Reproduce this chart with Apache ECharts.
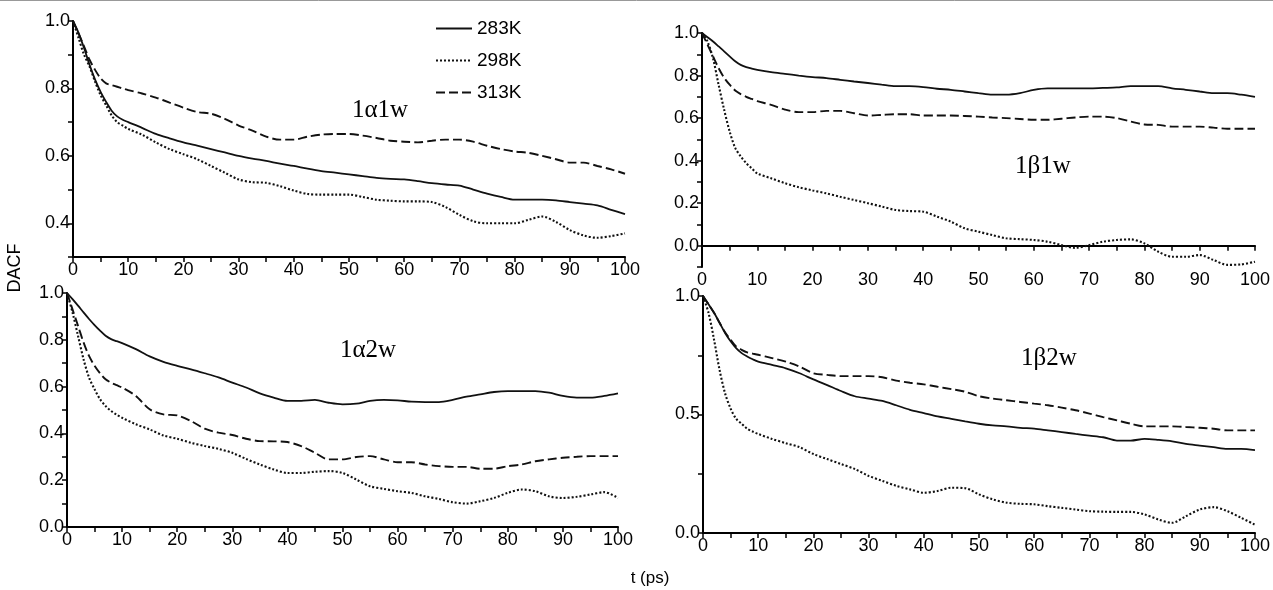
<!DOCTYPE html>
<html>
<head>
<meta charset="utf-8">
<script src="https://cdn.jsdelivr.net/npm/echarts@6/dist/echarts.min.js"></script>
<style>
  html, body { margin: 0; padding: 0; background: #fff; }
  #chart { width: 1273px; height: 590px; }
</style>
</head>
<body>
<div id="chart"></div>
<script>
// time axis (ps), shared by all panels
const T = [0, 1, 2, 3, 4, 5, 6, 7, 8, 9, 10,
  12.5, 15, 17.5, 20, 22.5, 25, 27.5, 30, 32.5, 35, 37.5, 40, 42.5, 45, 47.5, 50,
  52.5, 55, 57.5, 60, 62.5, 65, 67.5, 70, 72.5, 75, 77.5, 80, 82.5, 85, 87.5, 90,
  92.5, 95, 97.5, 100]

// 1α1w
const a1w283 = [1.0, 0.965, 0.92, 0.87, 0.826, 0.79, 0.76, 0.734, 0.717, 0.707, 0.70,
  0.683, 0.665, 0.652, 0.64, 0.63, 0.62, 0.61, 0.60, 0.592, 0.585, 0.577, 0.57, 0.562, 0.555, 0.55, 0.545,
  0.54, 0.535, 0.532, 0.53, 0.525, 0.519, 0.515, 0.512, 0.50, 0.488, 0.478, 0.47, 0.47, 0.47, 0.468, 0.463,
  0.458, 0.453, 0.44, 0.427]
const a1w298 = [1.0, 0.95, 0.90, 0.865, 0.82, 0.78, 0.75, 0.72, 0.70, 0.69, 0.68,
  0.663, 0.64, 0.62, 0.605, 0.59, 0.57, 0.55, 0.53, 0.522, 0.52, 0.51, 0.497, 0.487, 0.485, 0.485, 0.485,
  0.478, 0.47, 0.467, 0.465, 0.465, 0.463, 0.448, 0.425, 0.406, 0.40, 0.40, 0.40, 0.41, 0.42, 0.404, 0.38,
  0.364, 0.357, 0.362, 0.37]
const a1w313 = [1.0, 0.963, 0.925, 0.885, 0.855, 0.83, 0.815, 0.81, 0.805, 0.80, 0.795,
  0.785, 0.773, 0.758, 0.743, 0.73, 0.725, 0.71, 0.69, 0.675, 0.657, 0.648, 0.648, 0.657, 0.663, 0.665, 0.665,
  0.66, 0.653, 0.645, 0.642, 0.64, 0.645, 0.648, 0.648, 0.642, 0.63, 0.62, 0.613, 0.609, 0.60, 0.59, 0.58,
  0.58, 0.57, 0.56, 0.547]

// 1β1w
const b1w283 = [1.0, 0.98, 0.96, 0.937, 0.914, 0.89, 0.867, 0.85, 0.84, 0.833, 0.827,
  0.816, 0.808, 0.80, 0.793, 0.788, 0.78, 0.772, 0.765, 0.757, 0.75, 0.75, 0.746, 0.738, 0.733, 0.725, 0.717,
  0.71, 0.71, 0.717, 0.733, 0.74, 0.74, 0.74, 0.74, 0.742, 0.744, 0.75, 0.75, 0.75, 0.74, 0.733, 0.725,
  0.717, 0.717, 0.71, 0.70]
const b1w298 = [1.0, 0.96, 0.88, 0.757, 0.64, 0.537, 0.46, 0.42, 0.388, 0.364, 0.34,
  0.317, 0.294, 0.275, 0.26, 0.246, 0.23, 0.215, 0.20, 0.184, 0.168, 0.163, 0.16, 0.137, 0.113, 0.082, 0.066,
  0.05, 0.035, 0.031, 0.027, 0.019, 0.003, -0.01, 0.003, 0.019, 0.027, 0.03, 0.011, -0.028, -0.052, -0.052, -0.044,
  -0.067, -0.09, -0.088, -0.075]
const b1w313 = [1.0, 0.945, 0.89, 0.835, 0.79, 0.757, 0.73, 0.713, 0.70, 0.69, 0.68,
  0.662, 0.64, 0.628, 0.628, 0.634, 0.634, 0.623, 0.612, 0.615, 0.618, 0.618, 0.612, 0.612, 0.612, 0.61, 0.607,
  0.603, 0.60, 0.596, 0.592, 0.592, 0.597, 0.603, 0.607, 0.607, 0.60, 0.584, 0.57, 0.568, 0.56, 0.56, 0.56,
  0.555, 0.55, 0.55, 0.55]

// 1α2w
const a2w283 = [1.0, 0.974, 0.946, 0.917, 0.889, 0.863, 0.839, 0.817, 0.803, 0.794, 0.786,
  0.76, 0.729, 0.706, 0.689, 0.674, 0.657, 0.639, 0.617, 0.596, 0.571, 0.553, 0.539, 0.539, 0.543, 0.531, 0.524,
  0.527, 0.539, 0.543, 0.541, 0.536, 0.534, 0.534, 0.543, 0.557, 0.567, 0.577, 0.581, 0.581, 0.581, 0.574, 0.56,
  0.553, 0.553, 0.56, 0.571]
const a2w298 = [1.0, 0.917, 0.817, 0.717, 0.639, 0.589, 0.546, 0.517, 0.496, 0.48, 0.467,
  0.439, 0.417, 0.391, 0.377, 0.36, 0.346, 0.334, 0.317, 0.291, 0.267, 0.246, 0.231, 0.231, 0.236, 0.239, 0.231,
  0.203, 0.174, 0.163, 0.153, 0.146, 0.131, 0.12, 0.106, 0.10, 0.11, 0.124, 0.146, 0.16, 0.153, 0.131, 0.124,
  0.129, 0.139, 0.149, 0.124]
const a2w313 = [1.0, 0.93, 0.86, 0.789, 0.731, 0.689, 0.657, 0.631, 0.617, 0.606, 0.596,
  0.56, 0.503, 0.481, 0.477, 0.453, 0.42, 0.403, 0.393, 0.377, 0.367, 0.366, 0.363, 0.346, 0.317, 0.289, 0.289,
  0.299, 0.303, 0.289, 0.277, 0.277, 0.267, 0.26, 0.257, 0.257, 0.249, 0.249, 0.26, 0.267, 0.281, 0.289, 0.296,
  0.30, 0.303, 0.303, 0.303]

// 1β2w
const b2w283 = [1.0, 0.965, 0.929, 0.887, 0.844, 0.809, 0.78, 0.759, 0.745, 0.733, 0.723,
  0.709, 0.695, 0.674, 0.648, 0.624, 0.599, 0.577, 0.567, 0.557, 0.539, 0.52, 0.506, 0.492, 0.482, 0.471, 0.461,
  0.454, 0.45, 0.444, 0.44, 0.433, 0.426, 0.418, 0.411, 0.404, 0.39, 0.39, 0.397, 0.393, 0.387, 0.376, 0.369,
  0.362, 0.355, 0.355, 0.35]
const b2w298 = [1.0, 0.929, 0.816, 0.688, 0.589, 0.525, 0.482, 0.461, 0.44, 0.428, 0.418,
  0.397, 0.379, 0.362, 0.333, 0.312, 0.291, 0.27, 0.241, 0.22, 0.199, 0.184, 0.17, 0.177, 0.191, 0.189, 0.163,
  0.142, 0.128, 0.123, 0.121, 0.113, 0.106, 0.099, 0.092, 0.09, 0.089, 0.089, 0.078, 0.057, 0.043, 0.071, 0.099,
  0.109, 0.092, 0.064, 0.035]
const b2w313 = [1.0, 0.965, 0.929, 0.887, 0.847, 0.816, 0.787, 0.773, 0.762, 0.757, 0.752,
  0.738, 0.723, 0.702, 0.674, 0.667, 0.662, 0.662, 0.662, 0.657, 0.643, 0.634, 0.627, 0.617, 0.607, 0.596, 0.577,
  0.567, 0.56, 0.553, 0.546, 0.539, 0.529, 0.518, 0.504, 0.489, 0.475, 0.461, 0.45, 0.45, 0.45, 0.447, 0.444,
  0.44, 0.433, 0.433, 0.433]

const temps = ['283K', '298K', '313K']
const panelNames = ['1α1w', '1β1w', '1α2w', '1β2w']
const panelData = [
  [a1w283, a1w298, a1w313],
  [b1w283, b1w298, b1w313],
  [a2w283, a2w298, a2w313],
  [b2w283, b2w298, b2w313],
]

const font = 'Liberation Sans, Arial, Helvetica, sans-serif'
const serif = 'Liberation Serif, Times New Roman, serif'
const dashTypes = ['solid', [2, 2], [9, 4]]
const lineWidths = [1.8, 2.1, 1.9]

const grids = [
  { left: 73, top: 21, width: 552, height: 236 },
  { left: 702, top: 33, width: 553, height: 234 },
  { left: 67, top: 293, width: 551, height: 234 },
  { left: 703, top: 296, width: 554, height: 237 },
]

// y ranges: [min, max, tick interval, label step]
const yRanges = [
  [0.3, 1.0, 0.1, 0.2],
  [-0.1, 1.0, 0.1, 0.2],
  [0.0, 1.0, 0.1, 0.2],
  [0.0, 1.0, 0.25, 0.5],
]

const axisCommon = {
  axisLine: { lineStyle: { color: '#000', width: 2 } },
  axisTick: { inside: false, length: 5, lineStyle: { color: '#000', width: 1.5 } },
  splitLine: { show: false },
}

const xAxes = grids.map((g, i) => ({
  type: 'value',
  gridIndex: i,
  min: 0,
  max: 100,
  interval: 5,
  ...axisCommon,
  axisLabel: {
    color: '#000',
    fontFamily: font,
    fontSize: 18,
    margin: 4,
    formatter: (v) => (Math.round(v) % 10 === 0 ? String(v) : ''),
  },
}))

const yAxes = yRanges.map((r, i) => ({
  type: 'value',
  gridIndex: i,
  min: r[0],
  max: r[1],
  interval: r[2],
  ...axisCommon,
  axisLabel: {
    color: '#000',
    fontFamily: font,
    fontSize: 18,
    margin: 3,
    formatter: (v) => {
      const k = Math.round(v / r[3] * 1000) / 1000
      return (Number.isInteger(k) && v >= 0) ? v.toFixed(1) : ''
    },
  },
}))

const series = []
panelData.forEach((panel, p) => {
  panel.forEach((vals, s) => {
    series.push({
      name: temps[s],
      type: 'line',
      xAxisIndex: p,
      yAxisIndex: p,
      symbol: 'none',
      smooth: 0.3,
      data: T.map((t, k) => [t, vals[k]]),
      lineStyle: { color: '#111', width: lineWidths[s], type: dashTypes[s] },
      itemStyle: { color: '#111' },
    })
  })
})

// left edge and vertical centre of each panel label
const panelLabelPos = [
  [352, 110], [1015, 166], [340, 350], [1021, 358],
]

const chart = echarts.init(document.getElementById('chart'))
chart.setOption({
  animation: false,
  backgroundColor: '#fff',
  grid: grids,
  xAxis: xAxes,
  yAxis: yAxes,
  legend: {
    data: temps,
    orient: 'vertical',
    left: 430,
    top: 14,
    itemWidth: 36,
    itemHeight: 14,
    itemGap: 13,
    itemStyle: { opacity: 0 },
    textStyle: { color: '#000', fontFamily: font, fontSize: 19 },
  },
  graphic: [
    { type: 'line', shape: { x1: 0, y1: 0.5, x2: 1273, y2: 0.5 }, style: { stroke: '#999', lineWidth: 1 } },
    ...panelNames.map((n, i) => ({
      type: 'text',
      x: panelLabelPos[i][0],
      y: panelLabelPos[i][1],
      style: { text: n, fill: '#000', font: '25px ' + serif, align: 'left', verticalAlign: 'middle' },
    })),
    {
      type: 'text',
      x: 15,
      y: 268,
      rotation: Math.PI / 2,
      style: { text: 'DACF', fill: '#000', font: '18px ' + font, align: 'center', verticalAlign: 'middle' },
    },
    {
      type: 'text',
      x: 650,
      y: 578,
      style: { text: 't (ps)', fill: '#000', font: '17px ' + font, align: 'center', verticalAlign: 'middle' },
    },
  ],
  series,
})
</script>
</body>
</html>
